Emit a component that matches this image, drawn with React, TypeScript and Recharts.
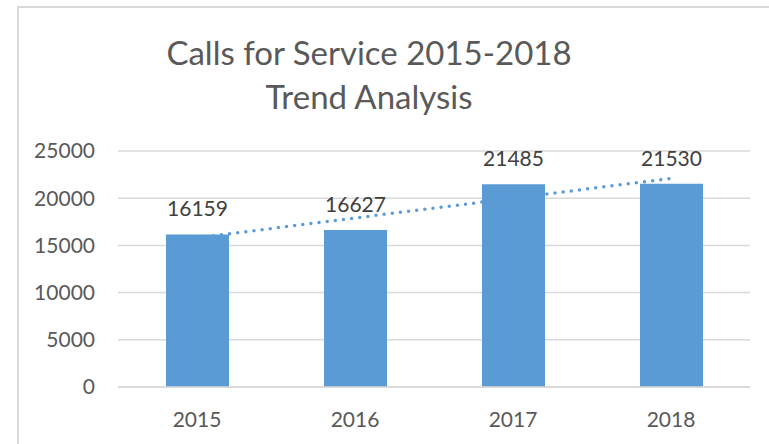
import React from "react";
import { ComposedChart, Bar, Line, XAxis, YAxis, CartesianGrid, LabelList } from "recharts";

const years = ["2015", "2016", "2017", "2018"];
const calls = [16159, 16627, 21485, 21530];
const trend = [15805, 17902, 19999, 22096];
const yTicks = [0, 5000, 10000, 15000, 20000, 25000];
const titleLines = ["Calls for Service 2015-2018", "Trend Analysis"];

const data = years.map((y, i) => ({ year: y, calls: calls[i], trend: trend[i] }));

const FONT = "Lato, 'Open Sans', sans-serif";
const BLUE = "#5B9BD5";

export default function App() {
  return (
    <div style={{ position: "absolute", left: 0, top: 0, width: 769, height: 444, overflow: "hidden", background: "#fff" }}>
      <div
        style={{
          position: "absolute",
          left: 17,
          top: 6,
          width: 800,
          height: 500,
          border: "2px solid #d9d9d9",
          boxSizing: "border-box",
        }}
      />
      <svg width={769} height={140} style={{ position: "absolute", left: 0, top: 0 }}>
        <text x={369} y={65} textAnchor="middle" fontFamily={FONT} fontSize={33} fill="#595959">
          {titleLines[0]}
        </text>
        <text x={369} y={109} textAnchor="middle" fontFamily={FONT} fontSize={33} fill="#595959">
          {titleLines[1]}
        </text>
      </svg>
      <div style={{ position: "absolute", left: 0, top: 0 }}>
        <ComposedChart
          width={769}
          height={444}
          data={data}
          margin={{ top: 151, right: 19, bottom: 0, left: 18 }}
          style={{ fontFamily: FONT }}
        >
          <CartesianGrid vertical={false} stroke="#d9d9d9" strokeWidth={1.5} />
          <XAxis
            dataKey="year"
            height={57}
            axisLine={{ stroke: "#d9d9d9", strokeWidth: 1.5 }}
            tickLine={false}
            tickSize={0}
            tickMargin={25}
            tick={{ fill: "#595959", fontSize: 21, fontFamily: FONT }}
          />
          <YAxis
            width={100}
            domain={[0, 25000]}
            ticks={yTicks}
            axisLine={false}
            tickLine={false}
            tickSize={0}
            tickMargin={23}
            tick={{ fill: "#595959", fontSize: 21, fontFamily: FONT }}
          />
          <Line
            dataKey="trend"
            stroke={BLUE}
            strokeWidth={3.5}
            strokeDasharray="0 8.2"
            strokeLinecap="round"
            dot={false}
            activeDot={false}
            isAnimationActive={false}
            type="linear"
          />
          <Bar dataKey="calls" fill={BLUE} barSize={63} isAnimationActive={false}>
            <LabelList dataKey="calls" position="top" offset={18} fill="#404040" fontSize={21} fontFamily={FONT} />
          </Bar>
        </ComposedChart>
      </div>
    </div>
  );
}
